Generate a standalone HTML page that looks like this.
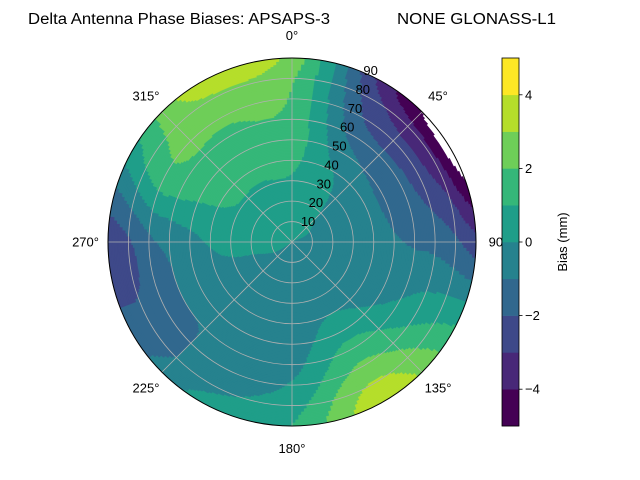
<!DOCTYPE html>
<html><head><meta charset="utf-8"><style>
html,body{margin:0;padding:0;background:#fff}
svg{display:block;font-family:"Liberation Sans","DejaVu Sans",sans-serif}
</style></head><body>
<svg id="chart" width="640" height="480" viewBox="0 0 640 480" xmlns="http://www.w3.org/2000/svg">
<rect width="640" height="480" fill="#fff"/>
<text x="28" y="24" font-size="15.5" textLength="302" lengthAdjust="spacingAndGlyphs">Delta Antenna Phase Biases: APSAPS-3</text>
<text x="397" y="24" font-size="15.5" textLength="159" lengthAdjust="spacingAndGlyphs">NONE GLONASS-L1</text>
<g id="field"></g>
<g id="grid"></g>
<g id="cbar"></g>
</svg>
<script>
// Azimuths (deg, clockwise from north) and zenith radii of sample grid
const azimuths = [0,30,60,90,120,150,180,210,240,270,300,330];
const radii = [0,10,20,30,40,50,60,70,80,90];
// values[azimuthIndex][radiusIndex], bias in mm
const values = [
 [0,0.3,0.6,0.9,1.2,1.5,1.7,1.9,2.1,2.6],
 [0,0.1,0.2,0.2,0,-0.6,-1.3,-2.0,-2.6,-3.4],
 [0,0,-0.2,-0.4,-0.6,-1.2,-1.6,-2.6,-3.6,-5.6],
 [0,-0.1,-0.3,-0.4,-0.6,-0.9,-1.1,-1.3,-1.8,-2.6],
 [0,-0.2,-0.5,-0.6,-0.6,-0.3,0.1,0.6,1.0,1.3],
 [0,-0.2,-0.4,-0.4,0,0.6,1.4,2.2,3.1,3.6],
 [0,-0.2,-0.4,-0.5,-0.5,-0.5,-0.3,0.1,0.6,1.0],
 [0,-0.3,-0.5,-0.6,-0.7,-0.8,-0.8,-0.6,-0.3,0.3],
 [0,0,-0.2,-0.3,-0.4,-0.6,-1.0,-1.3,-1.6,-1.5],
 [0,0.2,0.3,0.3,0.1,-0.3,-0.7,-1.2,-2.1,-2.6],
 [0,0.3,0.6,0.9,1.1,1.3,1.6,1.8,1.3,0.6],
 [0,0.3,0.6,0.9,1.2,1.5,1.8,2.2,2.8,3.6]
];
const levels = [-5,-4,-3,-2,-1,0,1,2,3,4,5];
const levelColors = ["#440154","#482878","#3e4989","#31688e","#26828e","#1f9e89","#35b779","#6ece58","#b5de2b","#fde725"];
const radialTicks = [10,20,30,40,50,60,70,80,90];
const angleTicks = [0,45,90,135,180,225,270,315];
const cbarTicks = [-4,-2,0,2,4];

const NS="http://www.w3.org/2000/svg";
const cx=292, cy=242, R=184, rMax=90;
const rScale = r => r/rMax*R;
function pt(az, r){const a=az*Math.PI/180, p=rScale(r);return [cx+p*Math.sin(a), cy-p*Math.cos(a)];}
function mk(tag, attrs, parent){const e=document.createElementNS(NS,tag);for(const k in attrs)e.setAttribute(k,attrs[k]);parent.appendChild(e);return e;}
function cr(p0,p1,p2,p3,t){return 0.5*((2*p1)+(-p0+p2)*t+(2*p0-5*p1+4*p2-p3)*t*t+(-p0+3*p1-3*p2+p3)*t*t*t);}
function radialAt(i, r){
  const row=values[i], n=radii.length;
  let j=Math.min(Math.floor(r/10), n-2); const t=(r-radii[j])/10;
  const g=k=>row[Math.max(0,Math.min(n-1,k))];
  return cr(g(j-1),g(j),g(j+1),g(j+2),t);
}
function valueAt(az, r){
  const n=azimuths.length, step=360/n;
  let a=((az%360)+360)%360;
  const i=Math.floor(a/step)%n, t=(a-i*step)/step;
  const g=k=>radialAt(((k%n)+n)%n, r);
  return cr(g(i-1),g(i),g(i+1),g(i+2),t);
}
function binOf(v){if(v<levels[0]||v>levels[levels.length-1])return -1;for(let k=0;k<levels.length-1;k++){if(v<levels[k+1])return k;}return levels.length-2;}
function annulus(a0,a1,r0,r1){
  const [x1,y1]=pt(a0,r1),[x2,y2]=pt(a1,r1),[x3,y3]=pt(a1,r0),[x4,y4]=pt(a0,r0);
  const R1=rScale(r1),R0=rScale(r0),large=(a1-a0)>180?1:0;
  return `M${x1},${y1}A${R1},${R1} 0 ${large} 1 ${x2},${y2}L${x3},${y3}`+(R0>0?`A${R0},${R0} 0 ${large} 0 ${x4},${y4}`:'')+'Z';
}
// field
const field=document.getElementById('field');
const dA=1, dR=0.75;
for(let r=0;r<rMax-1e-6;r+=dR){
  const rr=Math.min(r+dR, rMax);
  let runStart=0, runBin=binOf(valueAt(dA/2, r+dR/2));
  for(let a=dA;a<=360;a+=dA){
    const b = a<360 ? binOf(valueAt(a+dA/2, r+dR/2)) : null;
    if(b!==runBin){
      if(runBin>=0){
        const p=mk('path',{d:annulus(runStart,a,r,Math.min(rr+0.3,rMax)),fill:levelColors[runBin],stroke:levelColors[runBin],'stroke-width':0.4},field);
        
        
      }
      runStart=a; runBin=b;
    }
  }
}
// grid
const grid=document.getElementById('grid');
radialTicks.forEach(t=>{
  if(t<rMax){const c=mk('circle',{cx:cx,cy:cy,r:rScale(t),fill:'none',stroke:'#b0b0b0','stroke-width':0.8},grid);
  
  }
});
angleTicks.forEach(t=>{
  const [x,y]=pt(t,rMax);
  const l=mk('line',{x1:cx,y1:cy,x2:x,y2:y,stroke:'#b0b0b0','stroke-width':0.8},grid);
  
  
  const [lx,ly]=pt(t,rMax+11);
  const tx=mk('text',{x:lx,y:ly+4.5,'font-size':13,'text-anchor':'middle'},grid);
  tx.textContent=t+'°';
  
  
});
const spine=mk('circle',{cx:cx,cy:cy,r:R,fill:'none',stroke:'#000','stroke-width':1},grid);


radialTicks.forEach(t=>{
  const [x,y]=pt(22.5,t);
  const tx=mk('text',{x:x+1,y:y+3,'font-size':13,'text-anchor':'start'},grid);
  tx.textContent=t;
  
  
});
// colorbar
const cb=document.getElementById('cbar');
const cbX=502, cbW=17, cbTop=58, cbBot=426;
const cbY = v => cbBot-(v-levels[0])/(levels[levels.length-1]-levels[0])*(cbBot-cbTop);
for(let k=0;k<levelColors.length;k++){
  const r=mk('rect',{x:cbX,y:cbY(levels[k+1]),width:cbW,height:cbY(levels[k])-cbY(levels[k+1])+0.3,fill:levelColors[k]},cb);
  
  
}
const cbo=mk('rect',{x:cbX,y:cbTop,width:cbW,height:cbBot-cbTop,fill:'none',stroke:'#000','stroke-width':0.8},cb);


cbarTicks.forEach(t=>{
  const y=cbY(t);
  const l=mk('line',{x1:cbX+cbW,y1:y,x2:cbX+cbW+3.5,y2:y,stroke:'#000','stroke-width':0.8},cb);
  
  
  const tx=mk('text',{x:cbX+cbW+6,y:y+4.5,'font-size':13},cb);
  tx.textContent=(t<0?'\u2212'+(-t):String(t));
  
  
});
const lab=mk('text',{x:0,y:0,'font-size':13,'text-anchor':'middle',transform:'translate(567,242) rotate(-90)'},cb);
lab.textContent='Bias (mm)';


</script>
</body></html>
